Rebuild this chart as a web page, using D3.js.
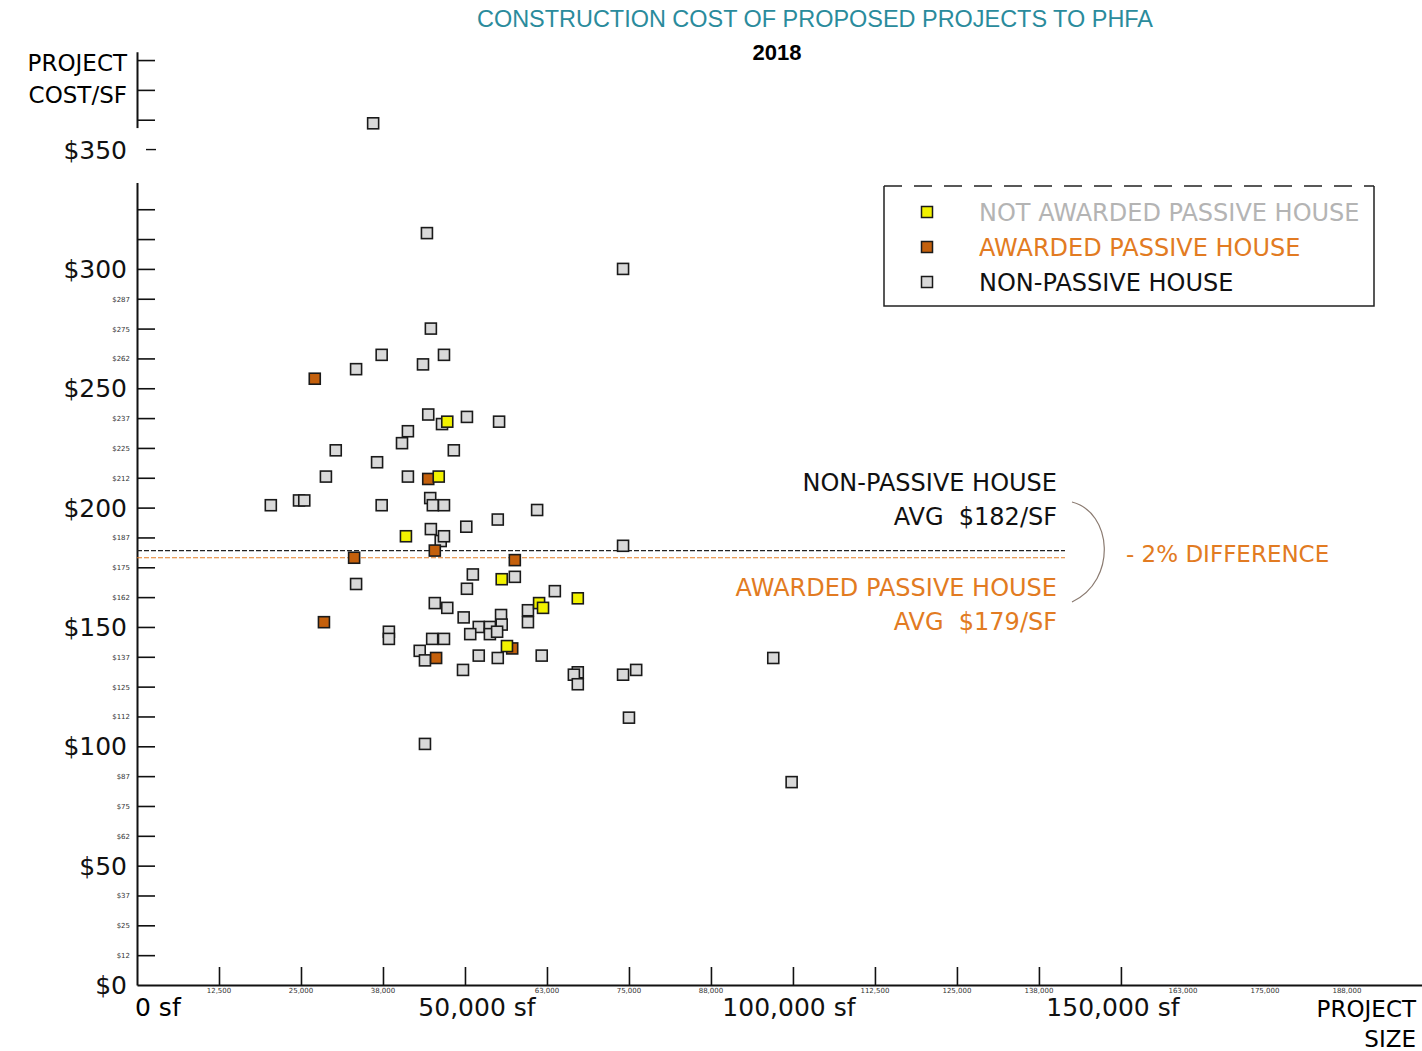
<!DOCTYPE html>
<html>
<head>
<meta charset="utf-8">
<script src="https://cdn.jsdelivr.net/npm/d3@7"></script>
<style>
  body { margin: 0; background: #fff; }
  svg { display: block; }
  text { font-family: "DejaVu Sans", Lato, sans-serif; }
</style>
</head>
<body>
<article></article>
<script>
const m = {
    width: 1422,
    height: 1051
}

// project size (sf) and cost per sf
const nonPassiveSize = [36000, 44200, 74100, 44800, 37300, 46800, 43600, 33400, 44400, 46500,
    50300, 55200, 41300, 40400, 30300, 48300, 36600, 28800, 41300, 44700,
    24700, 25500, 20400, 37300, 45100, 46800, 61000, 55000, 50200, 44800,
    46300, 46800, 74100, 51200, 57600, 33400, 50300, 63700, 45400, 47300,
    59600, 59600, 55500, 55600, 49800, 52100, 53800, 53800, 50800, 54900,
    38400, 38400, 45000, 46800, 43100, 43900, 52100, 55000, 61700, 49700,
    67200, 66600, 67200, 74100, 76100, 75000, 43900, 97000, 99800]
const nonPassiveCost = [361, 315, 300, 275, 264, 264, 260, 258, 239, 235,
    238, 236, 232, 227, 224, 224, 219, 213, 213, 204,
    203, 203, 201, 201, 201, 201, 199, 195, 192, 191,
    186, 188, 184, 172, 171, 168, 166, 165, 160, 158,
    157, 152, 155, 151, 154, 150, 150, 147, 147, 148,
    148, 145, 145, 145, 140, 136, 138, 137, 138, 132,
    131, 130, 126, 130, 132, 112, 101, 137, 85]

const awardedSize = [27100, 44400, 45400, 33100, 57600, 28500, 45600, 57200]
const awardedCost = [254, 212, 182, 179, 178, 152, 137, 141]

const notAwardedSize = [47300, 46000, 41000, 55600, 67200, 61300, 61900, 56400]
const notAwardedCost = [236, 213, 188, 170, 162, 160, 158, 142]

const avgNonPassive = 182
const avgAwarded = 179

const yTickValues = d3.range(12.5, 390, 12.5)
const yMajorLabels = [0, 50, 100, 150, 200, 250, 300, 350]
const xTickValues = d3.range(12500, 150001, 12500)
const xMinorValues = [12500, 25000, 37500, 62500, 75000, 87500, 112500, 125000, 137500, 162500, 175000, 187500]
const xMinorLabels = ['12,500', '25,000', '38,000', '63,000', '75,000', '88,000', '112,500', '125,000', '138,000', '163,000', '175,000', '188,000']
const xMajorValues = [50000, 100000, 150000]
const xMajorLabels = ['50,000 sf', '100,000 sf', '150,000 sf']

const legendLabels = ['NOT AWARDED PASSIVE HOUSE', 'AWARDED PASSIVE HOUSE', 'NON-PASSIVE HOUSE']
const legendFills = ['#f2f200', '#c4600c', '#d9d9d9']
const legendText = ['#b4b4b4', '#e27b22', '#111']

const orange = '#e27b22'

const svg = d3.select('article').append('svg')
    .attr('width', m.width)
    .attr('height', m.height)

const x = d3.scaleLinear().domain([0, 195900]).range([137, 1422])
const y = d3.scaleLinear().domain([0, 391]).range([985, 51.7])

// title
svg.append('text')
    .attr('x', 815).attr('y', 27)
    .attr('text-anchor', 'middle')
    .attr('fill', '#2a8b9c')
    .style('font-family', '"Liberation Sans Narrow", "Arial Narrow", "Liberation Sans", sans-serif')
    .style('font-size', '24px')
    .attr('textLength', 676).attr('lengthAdjust', 'spacingAndGlyphs')
    .text('CONSTRUCTION COST OF PROPOSED PROJECTS TO PHFA')

svg.append('text')
    .attr('x', 777).attr('y', 60)
    .attr('text-anchor', 'middle')
    .style('font-family', '"Liberation Sans Narrow", "Arial Narrow", "Liberation Sans", sans-serif')
    .style('font-size', '22px')
    .style('font-weight', 'bold')
    .text('2018')

// y axis
const yAxis = svg.append('g')
    .attr('transform', 'translate(137,0)')
    .call(d3.axisRight(y).tickValues(yTickValues).tickSize(18).tickSizeOuter(0).tickFormat(''))
yAxis.selectAll('line').attr('stroke', '#111').attr('stroke-width', 1.6)
yAxis.select('.domain').attr('stroke', '#111').attr('stroke-width', 2)

// gap in the axis around $350
svg.append('rect')
    .attr('x', 132).attr('y', y(359)).attr('width', 30).attr('height', y(336) - y(359))
    .attr('fill', '#fff')
svg.append('line')
    .attr('x1', 146).attr('x2', 156)
    .attr('y1', y(350)).attr('y2', y(350))
    .attr('stroke', '#111').attr('stroke-width', 1.4)

svg.selectAll('.ymaj')
    .data(yMajorLabels)
    .enter()
    .append('text')
    .attr('x', 127)
    .attr('y', d => y(d) + 9)
    .attr('text-anchor', 'end')
    .style('font-size', '25px')
    .attr('fill', '#111')
    .text(d => '$' + d)

svg.selectAll('.ymin')
    .data(yTickValues.filter(d => d % 50 != 0 && d < 300))
    .enter()
    .append('text')
    .attr('x', 130)
    .attr('y', d => y(d) + 3)
    .attr('text-anchor', 'end')
    .style('font-size', '7px')
    .attr('fill', '#333')
    .text(d => '$' + Math.floor(d))

svg.append('text')
    .attr('x', 127).attr('y', 71)
    .attr('text-anchor', 'end')
    .style('font-size', '23px')
    .text('PROJECT')
svg.append('text')
    .attr('x', 127).attr('y', 103)
    .attr('text-anchor', 'end')
    .style('font-size', '23px')
    .text('COST/SF')

// x axis
const xAxis = svg.append('g')
    .attr('transform', 'translate(0,985)')
    .call(d3.axisTop(x).tickValues(xTickValues).tickSize(18).tickSizeOuter(0).tickFormat(''))
xAxis.selectAll('line').attr('stroke', '#111').attr('stroke-width', 1.6)
xAxis.select('.domain').attr('stroke', '#111').attr('stroke-width', 2)

// the labels past 150,000 sit a little left of their ticks in the original
svg.selectAll('.xmin')
    .data(xMinorValues)
    .enter()
    .append('text')
    .attr('x', d => x(d) - (d > 150000 ? 20 : 0))
    .attr('y', 993)
    .attr('text-anchor', 'middle')
    .style('font-size', '7px')
    .attr('fill', '#333')
    .text((d, i) => xMinorLabels[i])

const xMajorShift = [12, -4, -8]
svg.selectAll('.xmaj')
    .data(xMajorValues)
    .enter()
    .append('text')
    .attr('x', (d, i) => x(d) + xMajorShift[i])
    .attr('y', 1016)
    .attr('text-anchor', 'middle')
    .style('font-size', '25px')
    .attr('fill', '#111')
    .text((d, i) => xMajorLabels[i])

svg.append('text')
    .attr('x', x(0) - 2).attr('y', 1016)
    .style('font-size', '25px')
    .text('0 sf')

svg.append('text')
    .attr('x', 1416).attr('y', 1017)
    .attr('text-anchor', 'end')
    .style('font-size', '23px')
    .text('PROJECT')
svg.append('text')
    .attr('x', 1416).attr('y', 1047)
    .attr('text-anchor', 'end')
    .style('font-size', '23px')
    .text('SIZE')

// average lines
svg.append('line')
    .attr('x1', x(0)).attr('x2', 1065)
    .attr('y1', y(avgNonPassive)).attr('y2', y(avgNonPassive))
    .attr('stroke', '#222').attr('stroke-width', 1.2)
    .attr('stroke-dasharray', '5,2')
svg.append('line')
    .attr('x1', x(0)).attr('x2', 1065)
    .attr('y1', y(avgAwarded)).attr('y2', y(avgAwarded))
    .attr('stroke', orange).attr('stroke-width', 1.2)
    .attr('stroke-dasharray', '5,2')

// points
const pointSize = 11

function drawPoints(sizes, costs, fill) {
    svg.append('g').selectAll('rect')
        .data(sizes.map((s, i) => ({ size: s, cost: costs[i] })))
        .enter()
        .append('rect')
        .attr('x', d => x(d.size) - pointSize / 2)
        .attr('y', d => y(d.cost) - pointSize / 2)
        .attr('width', pointSize)
        .attr('height', pointSize)
        .attr('fill', fill)
        .attr('stroke', '#1a1a1a')
        .attr('stroke-width', 1.6)
}

drawPoints(nonPassiveSize, nonPassiveCost, legendFills[2])
drawPoints(awardedSize, awardedCost, legendFills[1])
drawPoints(notAwardedSize, notAwardedCost, legendFills[0])

// annotation
svg.append('text')
    .attr('x', 1057).attr('y', 491)
    .attr('text-anchor', 'end')
    .style('font-size', '24px')
    .attr('fill', '#111')
    .text('NON-PASSIVE HOUSE')
svg.append('text')
    .attr('x', 1057).attr('y', 525)
    .attr('text-anchor', 'end')
    .style('font-size', '24px')
    .attr('fill', '#111')
    .attr('xml:space', 'preserve')
    .text('AVG  $' + avgNonPassive + '/SF')
svg.append('text')
    .attr('x', 1057).attr('y', 596)
    .attr('text-anchor', 'end')
    .style('font-size', '24px')
    .attr('fill', orange)
    .text('AWARDED PASSIVE HOUSE')
svg.append('text')
    .attr('x', 1057).attr('y', 630)
    .attr('text-anchor', 'end')
    .style('font-size', '24px')
    .attr('fill', orange)
    .attr('xml:space', 'preserve')
    .text('AVG  $' + avgAwarded + '/SF')

svg.append('path')
    .attr('d', 'M1072,502 C1112,512 1118,580 1072,602')
    .attr('fill', 'none')
    .attr('stroke', '#8a7a70')
    .attr('stroke-width', 1.2)

svg.append('text')
    .attr('x', 1126).attr('y', 562)
    .style('font-size', '23px')
    .attr('fill', orange)
    .text('- 2% DIFFERENCE')

// legend
const lg = svg.append('g')
lg.append('line')
    .attr('x1', 884).attr('x2', 1374).attr('y1', 186).attr('y2', 186)
    .attr('stroke', '#222').attr('stroke-width', 1.5)
    .attr('stroke-dasharray', '18,12')
lg.append('path')
    .attr('d', 'M884,186 V306 H1374 V186')
    .attr('fill', 'none')
    .attr('stroke', '#222').attr('stroke-width', 1.5)

legendLabels.forEach(function (label, i) {
    lg.append('rect')
        .attr('x', 927 - 5.5)
        .attr('y', 212 + i * 35 - 5.5)
        .attr('width', 11).attr('height', 11)
        .attr('fill', legendFills[i])
        .attr('stroke', '#1a1a1a')
        .attr('stroke-width', 1.5)
    lg.append('text')
        .attr('x', 979)
        .attr('y', 221 + i * 35)
        .style('font-size', '24px')
        .attr('fill', legendText[i])
        .text(label)
})
</script>
</body>
</html>
